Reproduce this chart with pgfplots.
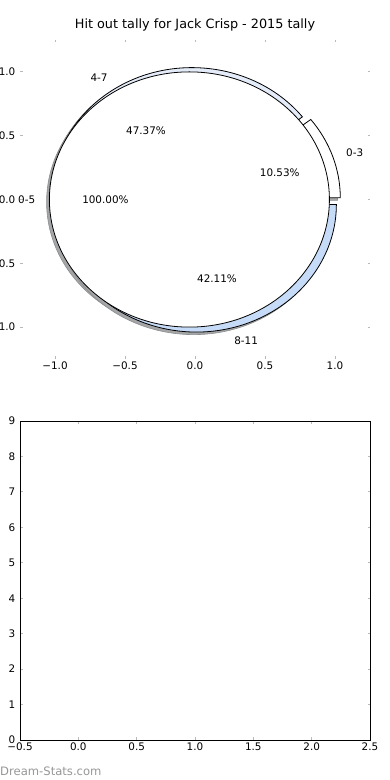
\documentclass[border=0pt]{standalone}
\usepackage{pgfplots}
\pgfplotsset{compat=1.18}
\usepackage{fontspec}
\setmainfont{DejaVu Sans}
\definecolor{wA}{RGB}{255,255,255}
\definecolor{wB}{RGB}{228,236,250}
\definecolor{wC}{RGB}{198,219,247}
\definecolor{tickgray}{RGB}{185,185,185}
\definecolor{shadowgray}{RGB}{165,166,168}
\definecolor{markgray}{RGB}{150,150,150}
\newcommand\tfont{\fontsize{10.4bp}{12bp}\selectfont}
\newcommand\titlefont{\fontsize{12.8bp}{15bp}\selectfont}
\newcommand\wmfont{\fontsize{11.6bp}{14bp}\selectfont}
\newcommand\pieWedge[5][]{\path[#1] (axis cs:#2,#3) -- ++(#4:140bp and 127.6bp) arc[start angle=#4,end angle=#5,x radius=140bp,y radius=127.6bp] -- cycle;}
\pgfkeys{/pgf/number format/assume math mode=true}
\begin{document}
\begin{tikzpicture}
% ---- data: hit outs per quarter-band and whole season ----
\def\vA{2}% 0-3
\def\vB{9}% 4-7
\def\vC{8}% 8-11
\def\vAll{19}% 0-5 (single slice)
\pgfmathsetmacro\tot{\vA+\vB+\vC}
\pgfmathsetmacro\aA{360*\vA/\tot}
\pgfmathsetmacro\aB{\aA+360*\vB/\tot}
\pgfmathsetmacro\mA{\aA/2}
\pgfmathsetmacro\mB{(\aA+\aB)/2}
\pgfmathsetmacro\mC{(\aB+360)/2}
\def\ex{0.04}
\pgfmathsetmacro\cAx{\ex*cos(\mA)}\pgfmathsetmacro\cAy{\ex*sin(\mA)}
\pgfmathsetmacro\cBx{\ex*cos(\mB)}\pgfmathsetmacro\cBy{\ex*sin(\mB)}
\pgfmathsetmacro\cCx{\ex*cos(\mC)}\pgfmathsetmacro\cCy{\ex*sin(\mC)}
\pgfmathsetmacro\sAx{\cAx-0.02}\pgfmathsetmacro\sAy{\cAy-0.02}
\pgfmathsetmacro\sBx{\cBx-0.02}\pgfmathsetmacro\sBy{\cBy-0.02}
\pgfmathsetmacro\sCx{\cCx-0.02}\pgfmathsetmacro\sCy{\cCy-0.02}
\pgfmathsetmacro\lAx{\cAx+1.1*cos(\mA)}\pgfmathsetmacro\lAy{\cAy+1.1*sin(\mA)}
\pgfmathsetmacro\lBx{\cBx+1.1*cos(\mB)}\pgfmathsetmacro\lBy{\cBy+1.1*sin(\mB)}
\pgfmathsetmacro\lCx{\cCx+1.1*cos(\mC)}\pgfmathsetmacro\lCy{\cCy+1.1*sin(\mC)}
\pgfmathsetmacro\pAx{\cAx+0.6*cos(\mA)}\pgfmathsetmacro\pAy{\cAy+0.6*sin(\mA)}
\pgfmathsetmacro\pBx{\cBx+0.6*cos(\mB)}\pgfmathsetmacro\pBy{\cBy+0.6*sin(\mB)}
\pgfmathsetmacro\pCx{\cCx+0.6*cos(\mC)}\pgfmathsetmacro\pCy{\cCy+0.6*sin(\mC)}
\pgfmathsetmacro\qA{100*\vA/\tot}
\pgfmathsetmacro\qB{100*\vB/\tot}
\pgfmathsetmacro\qC{100*\vC/\tot}
\pgfmathsetmacro\qAll{100*\vAll/\vAll}
\begin{axis}[
  at={(20bp,421bp)}, anchor=south west,
  scale only axis, width=350bp, height=319bp,
  xmin=-1.25, xmax=1.25, ymin=-1.25, ymax=1.25,
  clip=false,
  axis line style={draw=none},
  xtick={-1,-0.5,0,0.5,1}, xticklabels={−1.0,−0.5,0.0,0.5,1.0},
  ytick={-1,-0.5,0,0.5,1}, yticklabels={−1.0,−0.5,0.0,0.5,1.0},
  xtick pos=both, ytick pos=both,
  tick align=inside, major tick length=2.5bp,
  tick style={tickgray, line width=1bp},
  ticklabel style={font=\tfont, inner sep=0pt},
  xticklabel style={yshift=-2.5bp},
  yticklabel style={xshift=-4.5bp},
  title={Hit out tally for Jack Crisp - 2015 tally},
  title style={font=\titlefont, at={(0.5,1)}, anchor=base, yshift=6bp, inner sep=0pt},
]
% shadows
\path[fill=shadowgray, draw=shadowgray!85!black, line width=0.6bp] (axis cs:-0.06,-0.02) ellipse [x radius=140bp, y radius=127.6bp];
\pieWedge[fill=shadowgray, draw=shadowgray!85!black, line width=0.6bp]{\sAx}{\sAy}{0}{\aA}
\pieWedge[fill=shadowgray, draw=shadowgray!85!black, line width=0.6bp]{\sBx}{\sBy}{\aA}{\aB}
\pieWedge[fill=shadowgray, draw=shadowgray!85!black, line width=0.6bp]{\sCx}{\sCy}{\aB}{360}
% wedges
\pieWedge[fill=wA, draw=black, line width=0.8bp]{\cAx}{\cAy}{0}{\aA}
\pieWedge[fill=wB, draw=black, line width=0.8bp]{\cBx}{\cBy}{\aA}{\aB}
\pieWedge[fill=wC, draw=black, line width=0.8bp]{\cCx}{\cCy}{\aB}{360}
% whole season circle
\path[fill=white, draw=black, line width=0.8bp] (axis cs:-0.04,0) ellipse [x radius=140bp, y radius=127.6bp];
% labels
\node[font=\tfont, anchor=west, inner sep=0pt] at (axis cs:\lAx,\lAy) {0-3};
\node[font=\tfont, anchor=east, inner sep=0pt] at (axis cs:\lBx,\lBy) {4-7};
\node[font=\tfont, anchor=west, inner sep=0pt] at (axis cs:\lCx,\lCy) {8-11};
\node[font=\tfont, anchor=east, inner sep=0pt] at (axis cs:-1.14,0) {0-5};
\node[font=\tfont, inner sep=0pt] at (axis cs:\pAx,\pAy) {\pgfmathprintnumber[fixed,fixed zerofill,precision=2]{\qA}\%};
\node[font=\tfont, inner sep=0pt] at (axis cs:\pBx,\pBy) {\pgfmathprintnumber[fixed,fixed zerofill,precision=2]{\qB}\%};
\node[font=\tfont, inner sep=0pt] at (axis cs:\pCx,\pCy) {\pgfmathprintnumber[fixed,fixed zerofill,precision=2]{\qC}\%};
\node[font=\tfont, inner sep=0pt] at (axis cs:-0.64,0) {\pgfmathprintnumber[fixed,fixed zerofill,precision=2]{\qAll}\%};
\end{axis}
\begin{axis}[
  at={(20bp,40bp)}, anchor=south west,
  scale only axis, width=350bp, height=319bp,
  xmin=-0.5, xmax=2.5, ymin=0, ymax=9,
  axis line style={black, line width=0.9bp},
  xtick={-0.5,0,0.5,1,1.5,2,2.5}, xticklabels={−0.5,0.0,0.5,1.0,1.5,2.0,2.5},
  ytick={0,1,2,3,4,5,6,7,8,9}, yticklabels={0,1,2,3,4,5,6,7,8,9},
  xtick pos=both, ytick pos=both,
  tick align=inside, major tick length=2.5bp,
  tick style={tickgray, line width=1bp},
  ticklabel style={font=\tfont, inner sep=0pt},
  xticklabel style={yshift=-2.5bp},
  yticklabel style={xshift=-4.5bp},
]
\end{axis}
\node[anchor=base west, inner sep=0pt, text=markgray, font=\wmfont] at (0bp,5bp) {Dream-Stats.com};
\pgfresetboundingbox
\path[use as bounding box] (0bp,0bp) rectangle (390bp,780bp);
\end{tikzpicture}
\end{document}
